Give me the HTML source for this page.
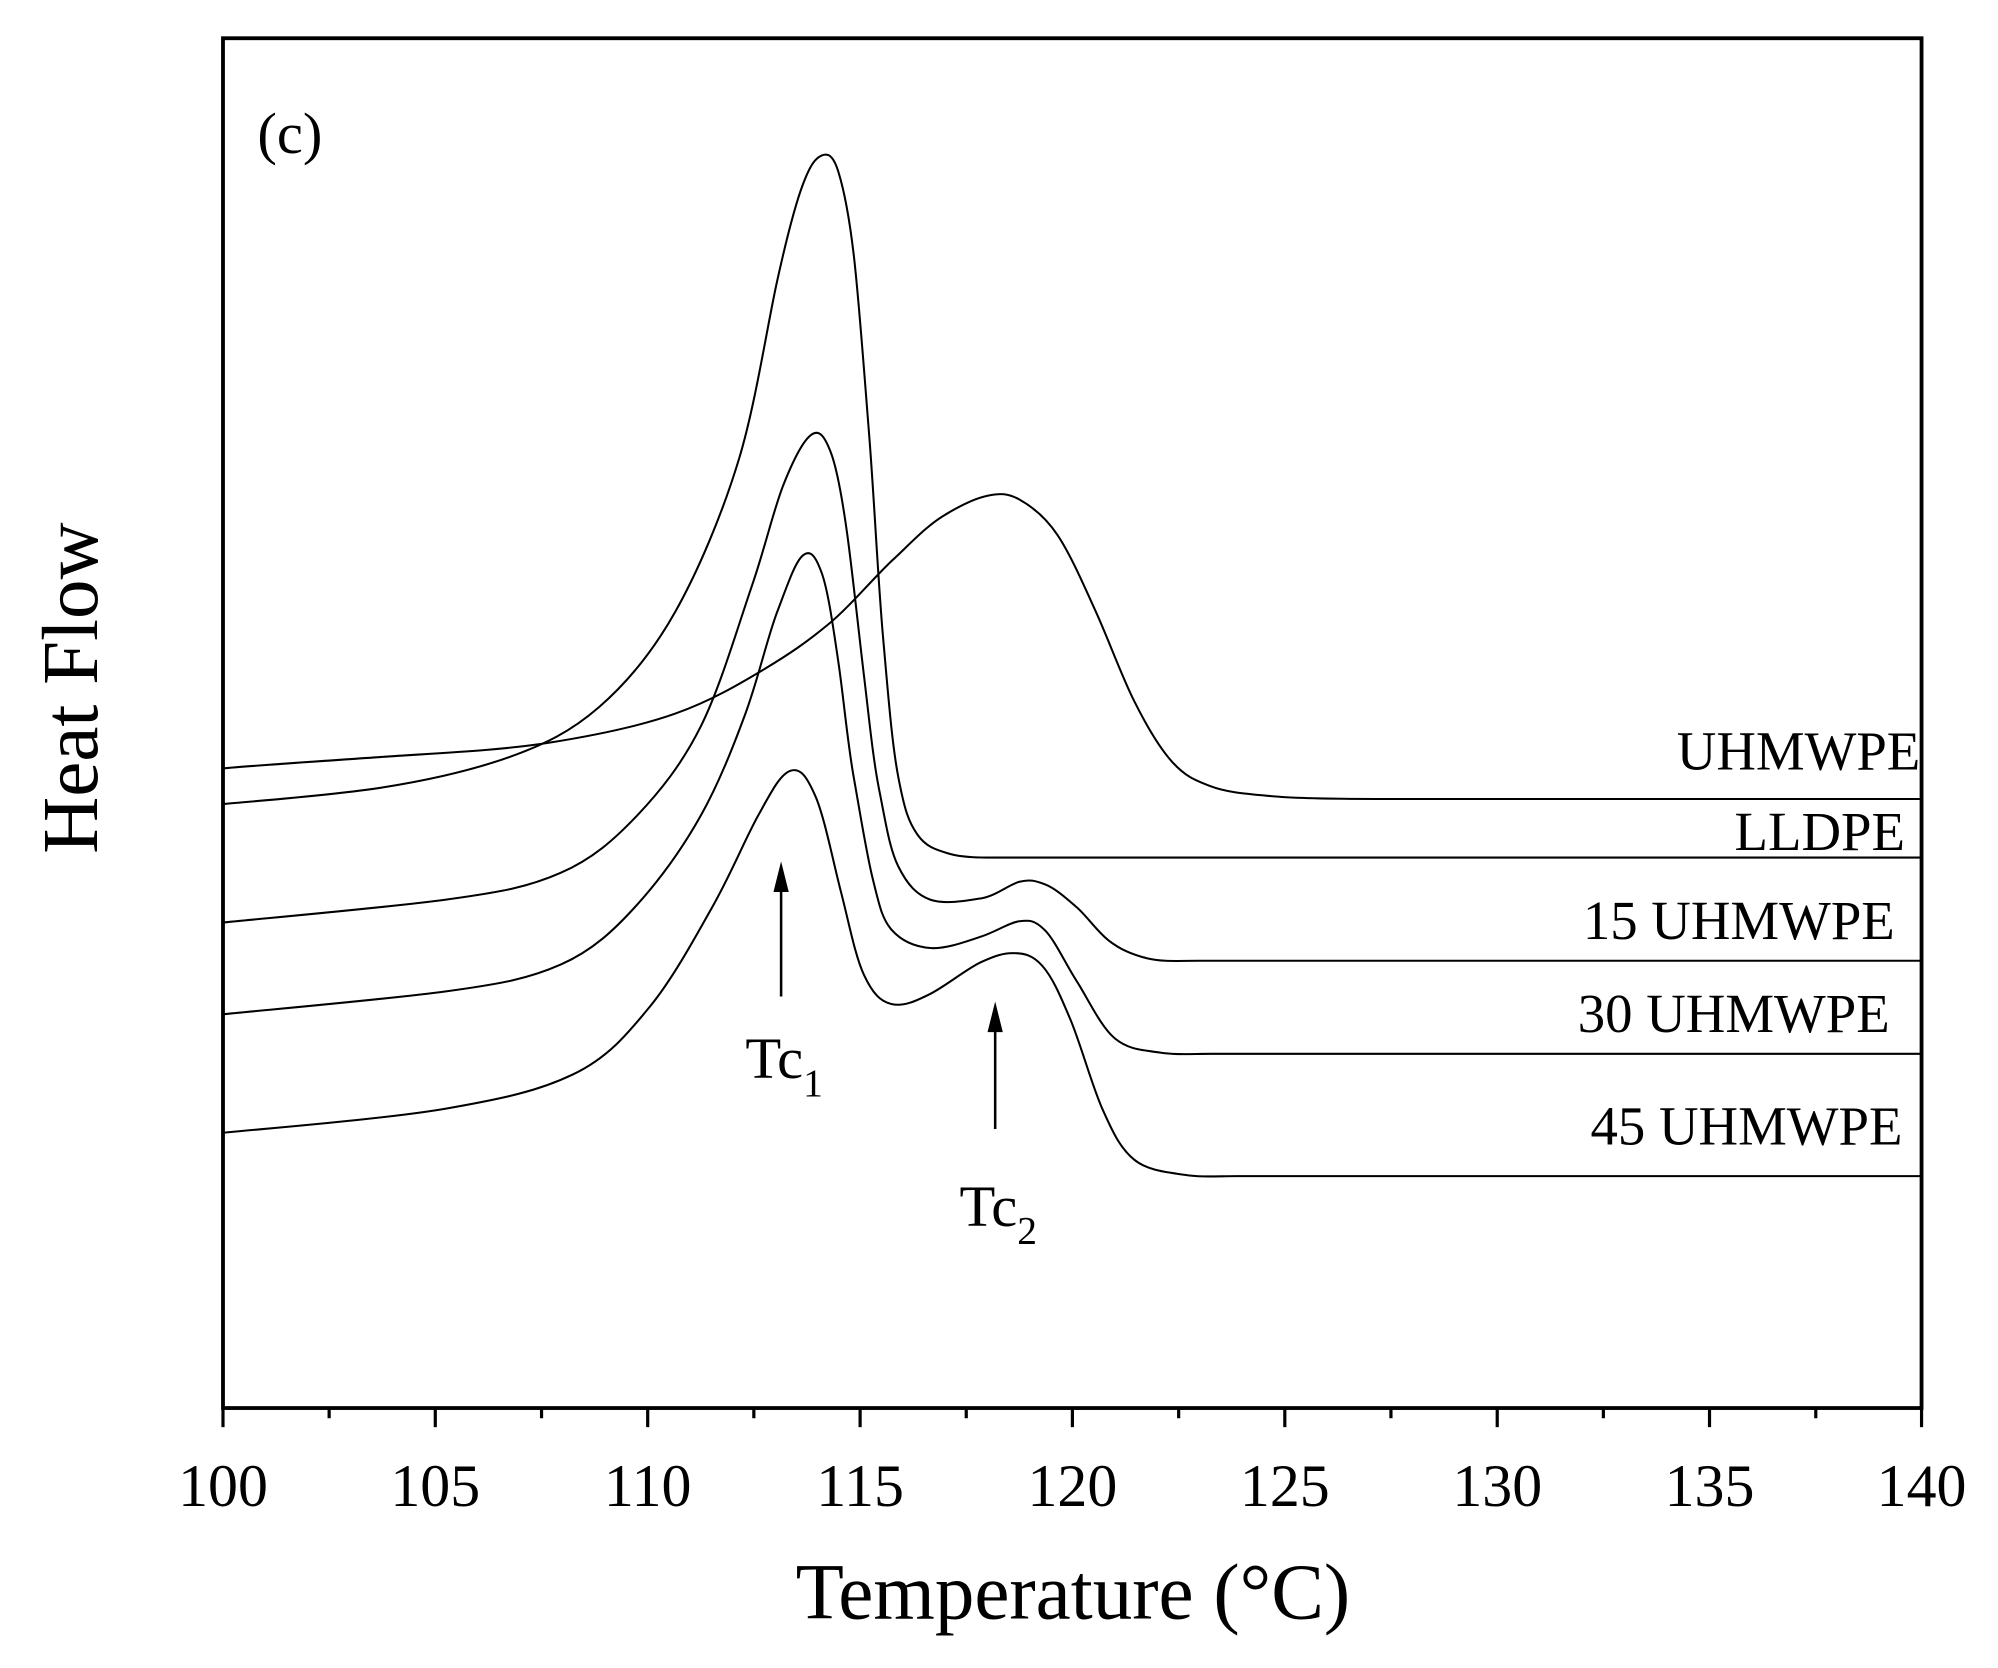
<!DOCTYPE html>
<html><head><style>body{margin:0;background:#fff}svg{display:block}</style></head><body>
<svg width="1998" height="1668" viewBox="0 0 1568 1309" xmlns="http://www.w3.org/2000/svg" font-family="Liberation Serif, serif">
<rect width="1568" height="1309" fill="#fff"/>
<rect x="175" y="30" width="1333" height="1075" fill="none" stroke="#000" stroke-width="3"/>
<g stroke="#000" stroke-width="2.5">
<line x1="175" y1="1105" x2="175" y2="1120"/><line x1="258.3" y1="1105" x2="258.3" y2="1113"/>
<line x1="341.6" y1="1105" x2="341.6" y2="1120"/><line x1="425" y1="1105" x2="425" y2="1113"/>
<line x1="508.3" y1="1105" x2="508.3" y2="1120"/><line x1="591.6" y1="1105" x2="591.6" y2="1113"/>
<line x1="675" y1="1105" x2="675" y2="1120"/><line x1="758.3" y1="1105" x2="758.3" y2="1113"/>
<line x1="841.6" y1="1105" x2="841.6" y2="1120"/><line x1="925" y1="1105" x2="925" y2="1113"/>
<line x1="1008.3" y1="1105" x2="1008.3" y2="1120"/><line x1="1091.6" y1="1105" x2="1091.6" y2="1113"/>
<line x1="1175" y1="1105" x2="1175" y2="1120"/><line x1="1258.3" y1="1105" x2="1258.3" y2="1113"/>
<line x1="1341.6" y1="1105" x2="1341.6" y2="1120"/><line x1="1425" y1="1105" x2="1425" y2="1113"/>
<line x1="1508" y1="1105" x2="1508" y2="1120"/>
</g>
<g font-size="47" text-anchor="middle">
<text x="175" y="1182">100</text><text x="341.6" y="1182">105</text><text x="508.3" y="1182">110</text>
<text x="675" y="1182">115</text><text x="841.6" y="1182">120</text><text x="1008.3" y="1182">125</text>
<text x="1175" y="1182">130</text><text x="1341.6" y="1182">135</text><text x="1508" y="1182">140</text>
</g>
<text x="842" y="1270" font-size="62" text-anchor="middle">Temperature (°C)</text>
<text transform="translate(76,540) rotate(-90)" font-size="62" text-anchor="middle">Heat Flow</text>
<text x="202" y="120" font-size="46">(c)</text>
<g fill="none" stroke="#000" stroke-width="1.6">
<path d="M175,631 C196,629 262,624 300,618 S372,604 400,594 S448,574 470,555 S512,512 530,480 S567,403 580,360 S602,256 610,220 S624,161 630,145 S640,124 645,122 S654,122 658,135 S666,166 670,200 S678,290 682,340 S689,455 693,500 S700,584 705,610 S713,645 720,655 S735,667 745,670 S770,673 780,673 L1508,673"/>
<path d="M175,603 C196,601 257,597 300,594 S392,589 430,583 S502,570 530,560 S580,537 600,525 S633,504 650,490 S685,454 700,440 S727,413 740,405 S765,391 775,389 S791,387 800,392 S820,405 830,420 S850,458 860,480 S880,530 890,550 S910,587 920,598 S937,612 950,617 S978,623 1000,625 S1060,627 1080,627 L1508,627"/>
<path d="M175,724 C204,721 306,712 350,706 S415,696 440,685 S482,659 500,640 S535,600 550,570 S579,492 590,460 S607,400 615,380 S631,345 637,341 S647,342 652,355 S661,391 665,420 S674,497 678,530 S685,595 690,620 S698,666 705,680 S719,702 730,706 S758,707 770,705 S792,694 800,692 S812,691 820,694 S837,705 845,712 S861,731 870,738 S888,749 900,752 S925,754 940,754 L1508,754"/>
<path d="M175,796 C204,793 306,784 350,778 S415,768 440,757 S482,730 500,710 S536,665 550,640 S575,587 585,560 S602,501 610,480 S624,441 630,436 S640,436 645,450 S654,493 658,520 S665,582 670,610 S680,670 685,690 S692,721 700,730 S718,743 730,744 S758,739 770,735 S792,724 800,723 S812,722 820,730 S836,756 845,770 S864,806 875,815 S897,824 910,826 S935,827 950,827 L1508,827"/>
<path d="M175,889 C204,886 304,878 350,870 S423,856 450,843 S492,812 510,790 S546,735 560,710 S585,658 595,640 S612,608 620,605 S633,609 640,625 S654,677 660,700 S671,750 678,765 S691,786 700,788 S718,786 730,780 S759,760 770,755 S787,748 795,748 S810,749 818,758 S832,781 840,800 S857,852 865,870 S879,901 890,910 S917,920 930,922 S955,923 970,923 L1508,923"/>
</g>
<g font-size="43" text-anchor="end">
<text x="1507" y="604">UHMWPE</text>
<text x="1495" y="667">LLDPE</text>
<text x="1487" y="737">15 UHMWPE</text>
<text x="1483" y="810">30 UHMWPE</text>
<text x="1493" y="898">45 UHMWPE</text>
</g>
<g stroke="#000" stroke-width="2"><line x1="613" y1="782" x2="613" y2="690"/><line x1="781" y1="886" x2="781" y2="800"/></g>
<polygon points="613,676 607,700 619,700" fill="#000"/>
<polygon points="781,786 775,810 787,810" fill="#000"/>
<text x="585" y="846" font-size="46">Tc<tspan font-size="31" dy="14">1</tspan></text>
<text x="753" y="962" font-size="46">Tc<tspan font-size="31" dy="14">2</tspan></text>
</svg>
</body></html>
